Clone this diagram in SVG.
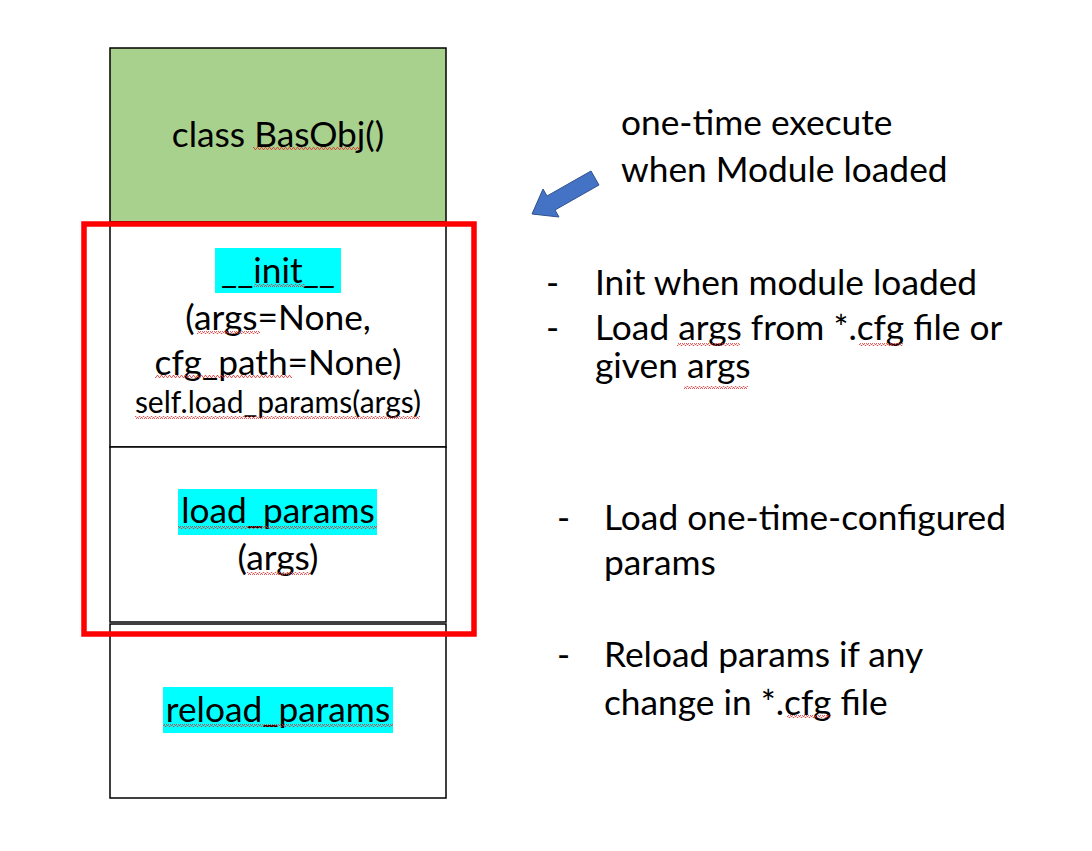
<svg xmlns="http://www.w3.org/2000/svg" width="1092" height="851" viewBox="0 0 1092 851">
<style>
.t{font-family:Lato,"Open Sans","Liberation Sans",sans-serif;font-size:35.3px;fill:#000}
.s{font-size:30px}
.m{text-anchor:middle}
.box{fill:#fff;stroke:#000;stroke-width:1.5}
.hl{fill:#00FFFF}
.sq{fill:url(#squig)}
</style>
<defs>
<pattern id="squig" width="4" height="3" patternUnits="userSpaceOnUse">
<path d="M0,2.5 L1,0.5 L2,0.5 L3,2.5 L4,2.5" fill="none" stroke="#e03030" stroke-width="0.8"/>
</pattern>
</defs>
<rect width="1092" height="851" fill="#fff"/>
<g id="class-header">
<rect x="110" y="48" width="336" height="174" fill="#A9D18E" stroke="#000" stroke-width="1.5"/>
<text class="t m" x="278" y="147">class BasObj()</text>
<rect class="sq" x="253" y="147" width="107" height="3"/>
</g>
<g id="init">
<rect class="box" x="110" y="222" width="336" height="225"/>
<rect class="hl" x="215" y="248" width="126" height="45"/>
<text class="t m" x="278" y="283">__init__</text>
<rect class="sq" x="254" y="284" width="51" height="3"/>
<text class="t m" x="278" y="330">(args=None,</text>
<rect class="sq" x="197" y="331" width="63" height="3"/>
<text class="t m" x="278" y="375">cfg_path=None)</text>
<rect class="sq" x="155" y="375" width="137" height="3"/>
<text class="t s m" x="278" y="413">self.load_params(args)</text>
<rect class="sq" x="135" y="416" width="285" height="3"/>
</g>
<g id="load_params">
<rect class="box" x="110" y="447" width="336" height="175"/>
<rect class="hl" x="178" y="489" width="199" height="46"/>
<text class="t m" x="278" y="523">load_params</text>
<rect class="sq" x="178" y="526" width="199" height="3"/>
<text class="t m" x="278" y="570">(args)</text>
<rect class="sq" x="247" y="572" width="63" height="3"/>
</g>
<g id="reload_params">
<rect class="box" x="110" y="624" width="336" height="174"/>
<rect class="hl" x="163" y="687" width="230" height="46"/>
<text class="t m" x="278" y="722">reload_params</text>
<rect class="sq" x="163" y="724" width="230" height="3"/>
</g>
<g id="highlight-frame">
<rect x="84" y="224" width="390" height="410" fill="none" stroke="#FF0000" stroke-width="5.5"/>
</g>
<g id="connectors">
<polygon points="591,171 599,185 555,210 559,217 532,214 543,189 547,196" fill="#4472C4" stroke="#2F528F" stroke-width="1"/>
</g>
<g id="notes">
<text class="t" x="621" y="135">one-time execute</text>
<text class="t" x="621" y="182">when Module loaded</text>
<text class="t" x="546" y="295">-</text>
<text class="t" x="595" y="295">Init when module loaded</text>
<text class="t" x="546" y="340">-</text>
<text class="t" x="595" y="340">Load args from *.cfg file or</text>
<rect class="sq" x="677" y="343" width="63" height="3"/>
<rect class="sq" x="859" y="343" width="44" height="3"/>
<text class="t" x="595" y="378">given args</text>
<rect class="sq" x="684" y="386" width="64" height="3"/>
<text class="t" x="557" y="530">-</text>
<text class="t" x="604" y="530">Load one-time-configured</text>
<text class="t" x="604" y="575">params</text>
<text class="t" x="557" y="667">-</text>
<text class="t" x="604" y="667">Reload params if any</text>
<text class="t" x="604" y="715">change in *.cfg file</text>
<rect class="sq" x="787" y="715" width="44" height="3"/>
</g>
</svg>
